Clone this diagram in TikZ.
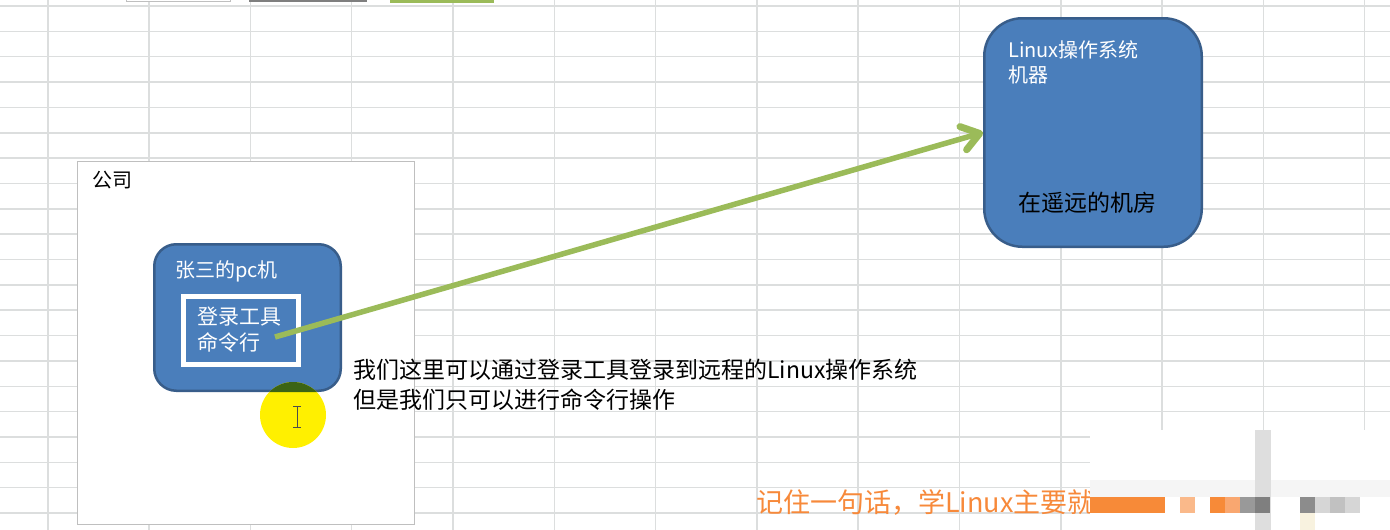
\documentclass[tikz,border=0pt]{standalone}
\usepackage{fontspec}
\setmainfont{Noto Sans CJK SC}
\usepackage{tikz}
\usetikzlibrary{shapes}
\usetikzlibrary{arrows.meta}
\definecolor{gridgray}{HTML}{DCDEDE}
\definecolor{framegray}{HTML}{BFBFBF}
\definecolor{boxblue}{HTML}{4A7EBB}
\definecolor{boxedge}{HTML}{385D8A}
\definecolor{arrowgreen}{HTML}{9BBB59}
\definecolor{noteorange}{HTML}{F7893A}
\definecolor{spotyellow}{HTML}{FFF000}
\definecolor{spotgreen}{HTML}{3C6414}
\definecolor{tileorange}{HTML}{F78A38}
\definecolor{tilepeach}{HTML}{FAB98A}
\definecolor{tilesalmon}{HTML}{F9A770}
\definecolor{tilegray}{HTML}{999999}
\definecolor{tiledark}{HTML}{7F7F7F}
\definecolor{tilemid}{HTML}{8C8C8C}
\definecolor{tilelight}{HTML}{D6D6D6}
\definecolor{tilesilver}{HTML}{C1C1C1}
\definecolor{tilecream}{HTML}{F8F2DF}
\tikzstyle{company} = [rectangle, draw=framegray, line width=1pt, fill=white, minimum width=337pt, minimum height=363pt, inner sep=0pt]
\tikzstyle{machine} = [rectangle, draw=boxedge, line width=2.5pt, fill=boxblue, inner sep=0pt]
\tikzstyle{tool} = [rectangle, draw=white, line width=5pt, fill=boxblue, minimum width=115pt, minimum height=68pt, inner sep=0pt]
\tikzstyle{whitetext} = [anchor=west, inner sep=0pt, text=white, align=left]
\tikzstyle{blacktext} = [anchor=west, inner sep=0pt, text=black, align=left]
\tikzstyle{arrow} = [line width=5.5pt, -{Straight Barb[length=17pt, width=24pt, line width=7pt, round]}, draw=arrowgreen]

\begin{document}
\begin{tikzpicture}[x=1pt, y=-1pt]
  \useasboundingbox (0,0) rectangle (1390,530);
  \fill[white] (0,0) rectangle (1390,530);

  % sheet grid
  \foreach \k in {0,...,13}
    \draw[gridgray, line width=1.5pt] (47.8+101.3*\k,0) -- (47.8+101.3*\k,530);
  \foreach \k in {0,...,20}
    \draw[gridgray, line width=1.5pt] (0,6+25.35*\k) -- (1390,6+25.35*\k);

  % shapes cut off at the top
  \fill[white, draw=framegray] (126,-10) rectangle (230,1);
  \fill[tiledark] (249,-10) rectangle (367,2);
  \fill[arrowgreen] (390,-10) rectangle (494,3);

  \node(office)[company] at (246,343) {};
  \node(officename)[blacktext, font=\fontsize{20}{24}\selectfont] at (92,180) {公司};

  \node(pc)[machine, rounded corners=22pt, minimum width=186.5pt, minimum height=146.5pt] at (247.5,317.5) {};
  \node(pcname)[whitetext, font=\fontsize{20}{24}\selectfont] at (175,271) {张三的pc机};
  \node(login)[tool] at (241,330.5) {};
  \node(logintext)[whitetext, font=\fontsize{21}{26}\selectfont] at (197,330) {登录工具\\命令行};
  \coordinate(cmd) at (275,337);

  \node(remote)[machine, rounded corners=38pt, minimum width=217.5pt, minimum height=228.5pt] at (1093,132.5) {};
  \node(remotename)[whitetext, font=\fontsize{20}{25}\selectfont] at (1008,62.5) {Linux操作系统\\机器};
  \node(remoteroom)[blacktext, font=\fontsize{23}{28}\selectfont] at (1018,203) {在遥远的机房};

  \path (cmd) edge[arrow] (remote.west);

  \node(note)[blacktext, font=\fontsize{23}{30}\selectfont] at (353,385) {我们这里可以通过登录工具登录到远程的Linux操作系统\\但是我们只可以进行命令行操作};

  % cursor spot
  \fill[spotyellow] (293,415) circle (33);
  \begin{scope}
    \clip[rounded corners=22pt] (pc.south west) rectangle (pc.north east);
    \fill[spotgreen] (293,415) circle (33);
  \end{scope}
  \draw[black!70, line width=1pt] (297,406) -- (297,427) (293,406) -- (301,406) (293,427) -- (301,427);

  \node(remember)[blacktext, text=noteorange, font=\fontsize{27}{32}\selectfont] at (756,502) {记住一句话，学Linux主要就};

  % blurred corner
  \fill[white] (1090,430) rectangle (1390,530);
  \fill[black!4] (1090,480) rectangle (1390,497);
  \fill[tilelight!80] (1255,430) rectangle (1271,530);
  \foreach \xa/\xb/\c in {1090/1165/tileorange, 1180/1195/tilepeach, 1210/1225/tileorange, 1225/1240/tilesalmon, 1240/1255/tilegray, 1255/1270/tiledark, 1300/1315/tilemid, 1315/1330/tilelight, 1330/1345/tilesilver, 1345/1360/tilelight}
    \fill[\c] (\xa,497) rectangle (\xb,513);
  \fill[tilecream] (1300,513) rectangle (1315,530);

\end{tikzpicture}
\end{document}
